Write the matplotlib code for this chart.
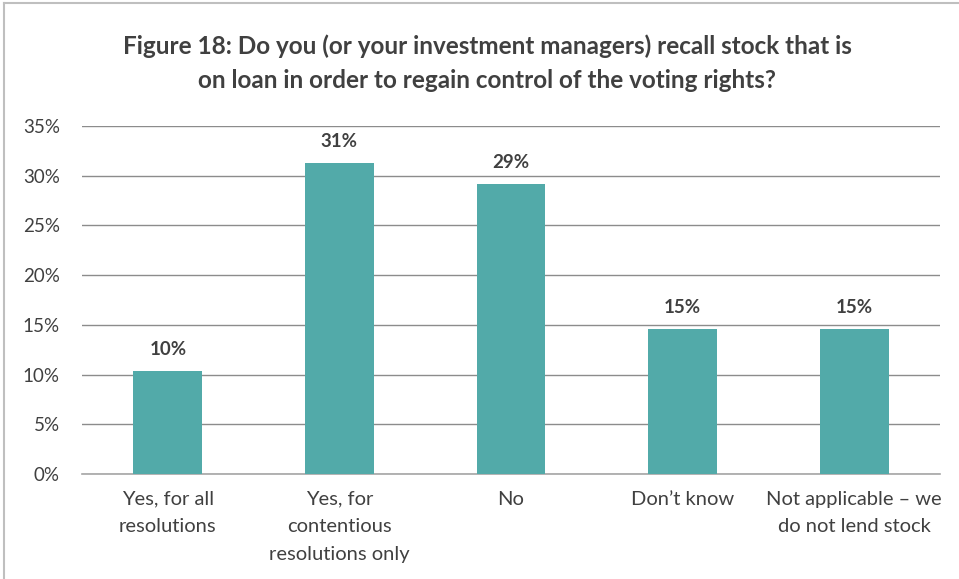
import matplotlib.pyplot as plt
from matplotlib.lines import Line2D

plt.rcParams['font.family'] = ['Lato', 'DejaVu Sans']

categories = ['Yes, for all\nresolutions', 'Yes, for\ncontentious\nresolutions only',
              'No', 'Don\u2019t know', 'Not applicable \u2013 we\ndo not lend stock']
values = [10.4, 31.3, 29.2, 14.6, 14.6]
yticks = [0, 5, 10, 15, 20, 25, 30, 35]

bar_color = '#52aaa9'
text_color = '#404040'

fig = plt.figure(figsize=(9.59, 5.79), dpi=100)
ax = fig.add_axes([82 / 959, 1 - 474 / 579, (940 - 82) / 959, (474 - 126) / 579])

x = range(len(categories))
ax.bar(x, values, width=0.4, color=bar_color, zorder=3)

for xi, v in zip(x, values):
    ax.annotate(f'{v:.0f}%', (xi, v), xytext=(0, 9), textcoords='offset points',
                ha='center', va='bottom', fontsize=13.5, fontweight='bold', color=text_color)

ax.set_xlim(-0.5, len(categories) - 0.5)
ax.set_ylim(0, 35)
ax.set_yticks(yticks)
ax.set_yticklabels([f'{t}%' for t in yticks])
ax.set_xticks(list(x))
ax.set_xticklabels(categories, linespacing=1.75)
ax.tick_params(axis='y', length=0, labelsize=13.5, colors=text_color, pad=16)
ax.tick_params(axis='x', length=0, labelsize=14.5, colors=text_color, pad=12)
ax.grid(axis='y', color='#8c8c8c', linewidth=1, zorder=0)
for side in ['top', 'right', 'left']:
    ax.spines[side].set_visible(False)
ax.spines['bottom'].set_color('#a6a6a6')
ax.spines['bottom'].set_linewidth(1.2)

fig.text(487 / 959, 1 - 63.5 / 579,
         'Figure 18: Do you (or your investment managers) recall stock that is\n'
         'on loan in order to regain control of the voting rights?',
         ha='center', va='center', fontsize=17.5, fontweight='bold', color=text_color,
         linespacing=1.6)

# outer chart border (left and top edges)
fig.add_artist(Line2D([4 / 959, 4 / 959], [0, 1 - 3 / 579], color='#bfbfbf', lw=1.5,
                      transform=fig.transFigure))
fig.add_artist(Line2D([4 / 959, 1], [1 - 3 / 579, 1 - 3 / 579], color='#bfbfbf', lw=1.5,
                      transform=fig.transFigure))

fig.savefig('out.png', dpi=100)
